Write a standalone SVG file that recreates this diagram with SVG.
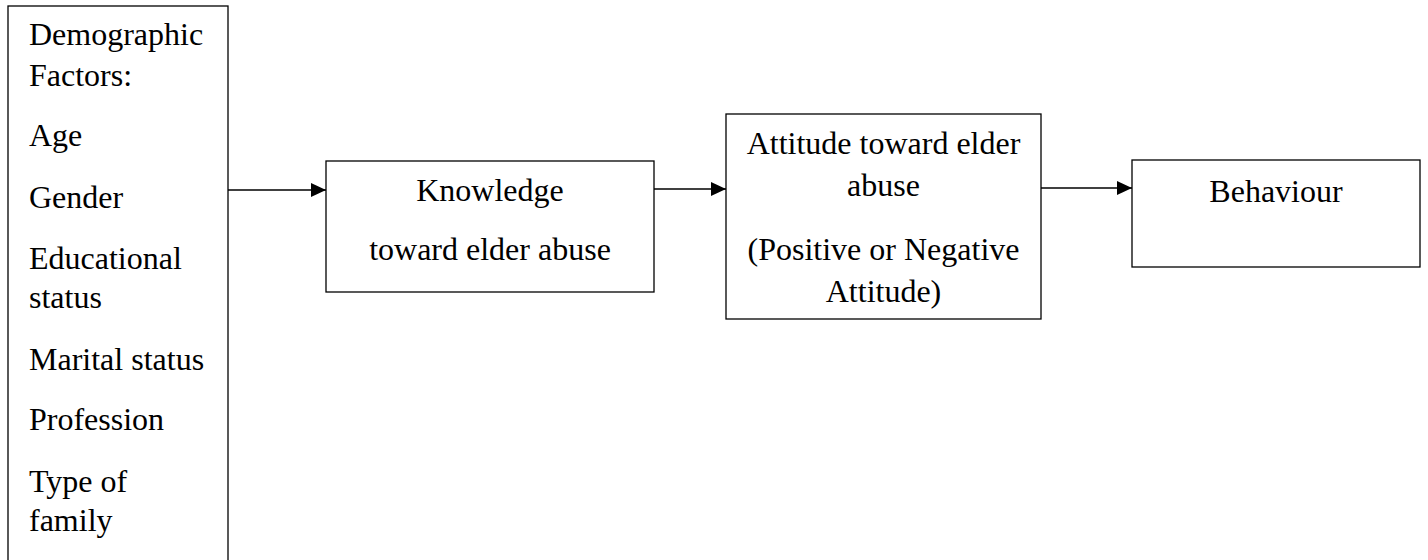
<svg xmlns="http://www.w3.org/2000/svg" width="1428" height="560" viewBox="0 0 1428 560">
<style>
.box{fill:#fff;stroke:#000;stroke-width:1.3}
.t{font-family:'Liberation Serif','Times New Roman','DejaVu Serif',serif;font-size:32px;fill:#000}
.c{text-anchor:middle}
.edge{stroke:#000;stroke-width:1.3;fill:none}
</style>
<defs>
<marker id="ah" markerWidth="15" markerHeight="14" refX="15" refY="7" orient="auto" markerUnits="userSpaceOnUse">
<path d="M0,0 L15,7 L0,14 Z" fill="#000"/>
</marker>
</defs>
<rect width="1428" height="560" fill="#fff"/>
<g id="demographic" font-family="Liberation Serif, Times New Roman, serif">
<rect class="box" x="8" y="6" width="220" height="570"/>
<text class="t" x="29" y="45">Demographic</text>
<text class="t" x="29" y="86">Factors:</text>
<text class="t" x="29" y="146">Age</text>
<text class="t" x="29" y="208">Gender</text>
<text class="t" x="29" y="269">Educational</text>
<text class="t" x="29" y="308">status</text>
<text class="t" x="29" y="370">Marital status</text>
<text class="t" x="29" y="430">Profession</text>
<text class="t" x="29" y="492">Type of</text>
<text class="t" x="29" y="531">family</text>
</g>
<g id="knowledge">
<rect class="box" x="326" y="161" width="328" height="131"/>
<text class="t c" x="490" y="201">Knowledge</text>
<text class="t c" x="490" y="260">toward elder abuse</text>
</g>
<g id="attitude">
<rect class="box" x="726" y="114" width="315" height="205"/>
<text class="t c" x="883.5" y="154">Attitude toward elder</text>
<text class="t c" x="883.5" y="196">abuse</text>
<text class="t c" x="883.5" y="260">(Positive or Negative</text>
<text class="t c" x="883.5" y="302">Attitude)</text>
</g>
<g id="behaviour">
<rect class="box" x="1132" y="160" width="288" height="107"/>
<text class="t c" x="1276" y="202">Behaviour</text>
</g>
<g id="connectors">
<line class="edge" x1="228" y1="190" x2="326" y2="190" marker-end="url(#ah)"/>
<line class="edge" x1="654" y1="189" x2="726" y2="189" marker-end="url(#ah)"/>
<line class="edge" x1="1041" y1="188" x2="1132" y2="188" marker-end="url(#ah)"/>
</g>
</svg>
